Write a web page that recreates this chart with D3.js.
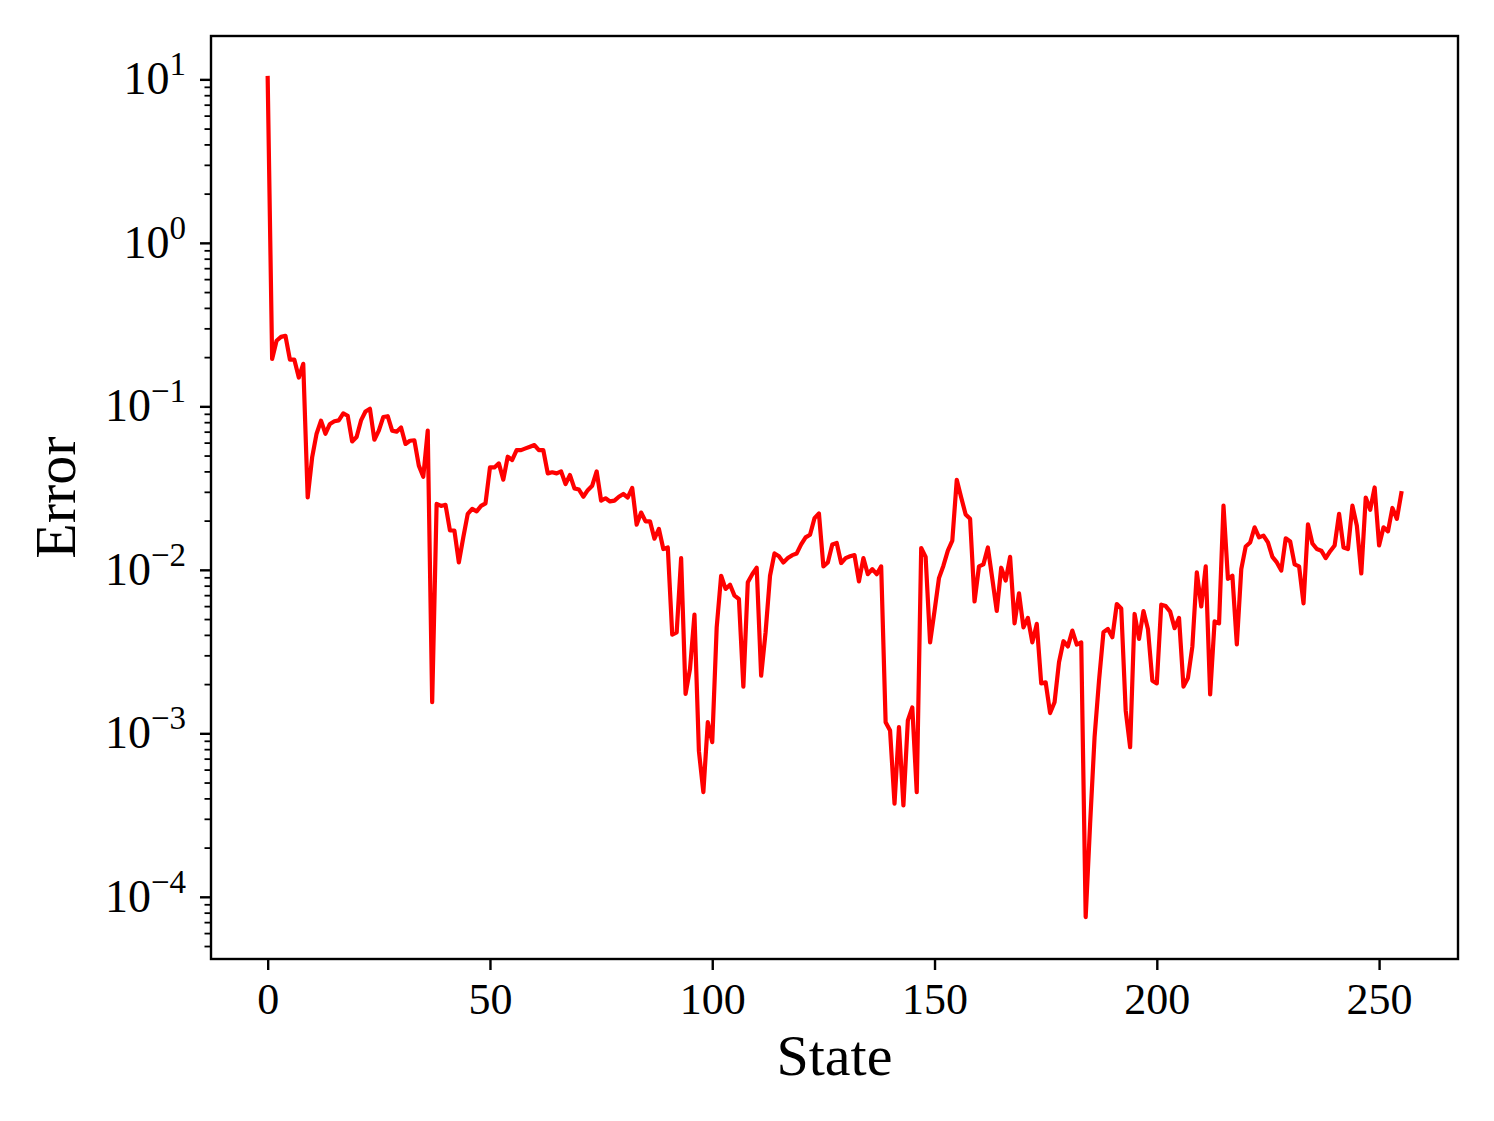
<!DOCTYPE html>
<html>
<head>
<meta charset="utf-8">
<script src="https://cdn.jsdelivr.net/npm/d3@7"></script>
<style>
html,body{margin:0;padding:0;background:#fff;}
svg{display:block;}
text{font-family:"Liberation Serif","Times New Roman",serif;fill:#000;}
</style>
</head>
<body>
<svg id="chart" width="1494" height="1121"></svg>
<script>
// ---- data ----
const errors = [
10.2, 0.195, 0.252, 0.266, 0.27, 0.193, 0.193, 0.150, 0.182, 0.0277,
0.0487, 0.068, 0.0817, 0.068, 0.078, 0.081, 0.082, 0.0905, 0.0876, 0.061,
0.065, 0.082, 0.093, 0.0966, 0.0625, 0.071, 0.086, 0.087, 0.071, 0.070,
0.0743, 0.0589, 0.0616, 0.062, 0.0434, 0.0371, 0.071, 0.00155, 0.0253, 0.0246,
0.025, 0.0174, 0.0174, 0.0111, 0.0158, 0.022, 0.0236, 0.0228, 0.0246, 0.0255,
0.0423, 0.0423, 0.0448, 0.0356, 0.0492, 0.047, 0.054, 0.054, 0.0553, 0.0566,
0.058, 0.054, 0.054, 0.0389, 0.0395, 0.0389, 0.040, 0.0335, 0.038, 0.0315,
0.031, 0.028, 0.0307, 0.0327, 0.040, 0.0265, 0.0274, 0.0262, 0.0265, 0.028,
0.0291, 0.0277, 0.0317, 0.0189, 0.0224, 0.0198, 0.0198, 0.0155, 0.0178, 0.0134,
0.0137, 0.00402, 0.00415, 0.0118, 0.00174, 0.00248, 0.00532, 0.000778, 0.000437, 0.00117,
0.000883, 0.00445, 0.0092, 0.00764, 0.0081, 0.00695, 0.00663, 0.00193, 0.0084, 0.0094,
0.0103, 0.00225, 0.00415, 0.0092, 0.0126, 0.0121, 0.0111, 0.0118, 0.0123, 0.0126,
0.0143, 0.0158, 0.0164, 0.0207, 0.0221, 0.0105, 0.0111, 0.0143, 0.0146, 0.0110,
0.0118, 0.0121, 0.0123, 0.0085, 0.0118, 0.0094, 0.0101, 0.0094, 0.0105, 0.00117,
0.00104, 0.000371, 0.00109, 0.000362, 0.0012, 0.00144, 0.000437, 0.0136, 0.012, 0.0036,
0.0056, 0.0089, 0.0106, 0.0131, 0.0151, 0.0355, 0.0277, 0.0218, 0.0205, 0.0064,
0.0105, 0.0108, 0.0137, 0.0088, 0.0056, 0.0103, 0.0086, 0.012, 0.00471, 0.00718,
0.00445, 0.00508, 0.0036, 0.00467, 0.00202, 0.00205, 0.00133, 0.00155, 0.00272, 0.00366,
0.0034, 0.00425, 0.00349, 0.0036, 0.0000752, 0.00028, 0.000947, 0.0021, 0.00415, 0.00435,
0.00387, 0.00618, 0.0058, 0.00138, 0.000822, 0.00537, 0.00378, 0.0056, 0.00435, 0.0021,
0.00202, 0.00612, 0.006, 0.00555, 0.0044, 0.00508, 0.00193, 0.00218, 0.0034, 0.00966,
0.00597, 0.0105, 0.00173, 0.00484, 0.0047, 0.0247, 0.0088, 0.0092, 0.0035, 0.0101,
0.0139, 0.0147, 0.0182, 0.0158, 0.0162, 0.0147, 0.012, 0.0111, 0.0099, 0.0156,
0.0149, 0.0108, 0.0105, 0.00624, 0.019, 0.0145, 0.0134, 0.0131, 0.0118, 0.013,
0.0141, 0.022, 0.0137, 0.0134, 0.0247, 0.0186, 0.0095, 0.0277, 0.0233, 0.0319,
0.0141, 0.0182, 0.0172, 0.0239, 0.0205, 0.0294
];
const xTicks = [0, 50, 100, 150, 200, 250];
const yTickExps = [1, 0, -1, -2, -3, -4];
const xLabel = "State";
const yLabel = "Error";

// ---- layout ----
const L = 211, R = 1458, T = 36, B = 959;
const svg = d3.select("#chart");
svg.append("rect").attr("width",1494).attr("height",1121).attr("fill","#fff");

const n = errors.length;
const xPad = (n - 1) * 0.05;
const x = d3.scaleLinear().domain([-xPad, n - 1 + xPad]).range([L, R]);
const lmin = Math.log10(d3.min(errors)), lmax = Math.log10(d3.max(errors));
const lpad = (lmax - lmin) * 0.05;
const y = d3.scaleLog().domain([Math.pow(10, lmin - lpad), Math.pow(10, lmax + lpad)]).range([B, T]);

// line
const line = d3.line().x((d,i)=>x(i)).y(d=>y(d));
svg.append("path").datum(errors)
  .attr("d", line).attr("fill","none").attr("stroke","#ff0000")
  .attr("stroke-width",4.2).attr("stroke-linejoin","round").attr("stroke-linecap","square");

// x axis
const xAxis = d3.axisBottom(x).tickValues(xTicks).tickSize(11).tickPadding(13).tickFormat(d3.format("d"));
const gx = svg.append("g").attr("transform",`translate(0,${B})`).call(xAxis);
gx.select(".domain").remove();
gx.selectAll(".tick line").attr("stroke","#000").attr("stroke-width",2.4);
gx.selectAll(".tick text").attr("font-size",44).attr("font-family","'Liberation Serif',serif").attr("fill","#000");

// y axis minor + major ticks
const [d0, d1] = y.domain();
const minors = [];
for (let e = Math.floor(Math.log10(d0)); e <= Math.ceil(Math.log10(d1)); e++) {
  for (let m = 2; m <= 9; m++) {
    const v = m * Math.pow(10, e);
    if (v >= d0 && v <= d1) minors.push(v);
  }
}
const yMinor = d3.axisLeft(y).tickValues(minors).tickSize(6.5).tickFormat("");
const gym = svg.append("g").attr("transform",`translate(${L},0)`).call(yMinor);
gym.select(".domain").remove();
gym.selectAll(".tick line").attr("stroke","#000").attr("stroke-width",1.8);

const yMajor = d3.axisLeft(y).tickValues(yTickExps.map(e=>Math.pow(10,e))).tickSize(11).tickFormat("");
const gy = svg.append("g").attr("transform",`translate(${L},0)`).call(yMajor);
gy.select(".domain").remove();
gy.selectAll(".tick line").attr("stroke","#000").attr("stroke-width",2.4);

// y tick labels (10^e)
yTickExps.forEach(e => {
  const t = svg.append("text")
    .attr("x", 186).attr("y", y(Math.pow(10,e)) + 15)
    .attr("text-anchor","end").attr("font-size",46);
  t.append("tspan").text("10");
  t.append("tspan").attr("dy",-19).attr("font-size",33).text(String(e).replace("-","\u2212"));
});

// frame
svg.append("rect").attr("x",L).attr("y",T).attr("width",R-L).attr("height",B-T)
  .attr("fill","none").attr("stroke","#000").attr("stroke-width",2.4);

// axis labels
svg.append("text").attr("x",(L+R)/2).attr("y",1075).attr("text-anchor","middle")
  .attr("font-size",58).text(xLabel);
svg.append("text").attr("transform",`translate(75,${(T+B)/2}) rotate(-90)`)
  .attr("text-anchor","middle").attr("font-size",58).text(yLabel);
</script>
</body>
</html>
